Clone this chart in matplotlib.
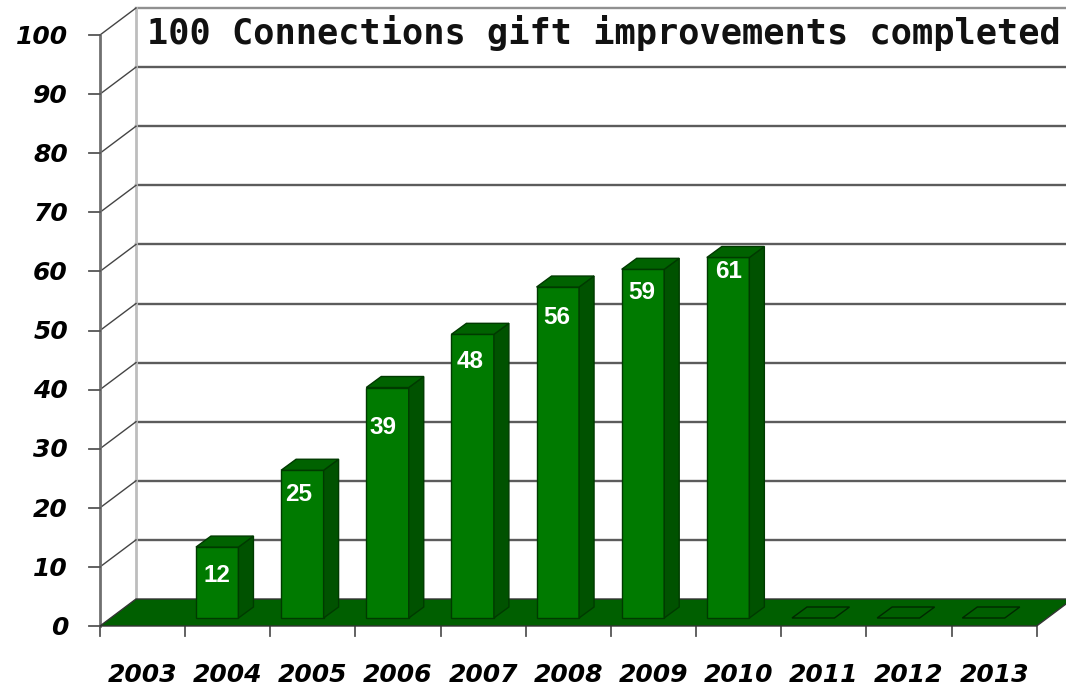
import matplotlib
matplotlib.use("Agg")
import matplotlib.pyplot as plt
from matplotlib.patches import Polygon
from matplotlib.font_manager import FontProperties

years = [2003, 2004, 2005, 2006, 2007, 2008, 2009, 2010, 2011, 2012, 2013]
values = [None, 12, 25, 39, 48, 56, 59, 61, 0, 0, 0]
y_ticks = [0, 10, 20, 30, 40, 50, 60, 70, 80, 90, 100]
title = "100 Connections gift improvements completed"
# how far each value label sits below its bar top, in value units
label_drop = [None, 4.8, 4.1, 6.8, 4.6, 5.2, 3.9, 2.4, None, None, None]
# horizontal nudge of each value label, in pixels
label_nudge = [0, 0, -4, -5, -3, -1, -1, 0, 0, 0, 0]

W, H = 1066, 690
X0, Y0, SX, SY = 100.0, 626.0, 85.15, 5.91

fig = plt.figure(figsize=(W / 100, H / 100), dpi=100, facecolor="white")
ax = fig.add_axes([0, 0, 1, 1])
ax.set_xlim(-X0 / SX, (W - X0) / SX)
ax.set_ylim((Y0 - H) / SY, Y0 / SY)
ax.axis("off")

DX, DY = 36 / SX, 27 / SY          # wall/floor depth
BX, BY = 15 / SX, 11 / SY          # bar depth
PAD, BW = 10.8 / SX, 42.5 / SX     # bar inset and width
BASE = 8 / SY                      # bar base above front floor edge

GRID = "#5c5c5c"
FLOOR = "#005f00"
FRONT = "#007a00"
TOP = "#006200"
SIDE = "#005200"
EDGE = "#003a00"
n = len(years)
top = y_ticks[-1]

# walls
for v in y_ticks[1:]:
    ax.plot([DX, n + DX + 1], [v + DY] * 2, color=GRID if v < top else "#909090", lw=1.7, zorder=1)
    ax.plot([0, DX], [v, v + DY], color="#444444", lw=1.0, zorder=1.2)
ax.plot([DX, DX], [DY, top + DY], color="#bdbdbd", lw=2, zorder=1.1)
ax.plot([0, 0], [0, top], color="#707070", lw=2, zorder=1.3)

# floor
ax.add_patch(Polygon([(0, 0), (n, 0), (n + DX, DY), (DX, DY)], closed=True,
                     facecolor=FLOOR, edgecolor="#333333", lw=1, zorder=2))

# ticks
for v in y_ticks:
    ax.plot([-11 / SX, 0], [v, v], color="#555555", lw=1.3, zorder=1.4)
for i in range(n + 1):
    ax.plot([i, i], [0, -10 / SY], color="#555555", lw=1.3, zorder=1.4)

label_font = FontProperties(fname=matplotlib.font_manager.findfont(
    FontProperties(family="Liberation Sans", weight="bold", stretch="normal")), size=17.5)

# bars
for i, v in enumerate(values):
    if v is None:
        continue
    x0, x1 = i + PAD, i + PAD + BW
    b, t = BASE, BASE + v
    if v > 0:
        ax.add_patch(Polygon([(x0, b), (x1, b), (x1, t), (x0, t)], closed=True,
                             facecolor=FRONT, edgecolor=EDGE, lw=1, zorder=3))
        ax.add_patch(Polygon([(x1, b), (x1 + BX, b + BY), (x1 + BX, t + BY), (x1, t)], closed=True,
                             facecolor=SIDE, edgecolor=EDGE, lw=1, zorder=3))
    ax.add_patch(Polygon([(x0, t), (x1, t), (x1 + BX, t + BY), (x0 + BX, t + BY)], closed=True,
                         facecolor=TOP if v > 0 else "none", edgecolor=EDGE if v > 0 else "#002800",
                         lw=1, zorder=3))
    if v > 0:
        ax.text((x0 + x1) / 2 + label_nudge[i] / SX, t - label_drop[i], str(v), color="white",
                ha="center", va="center", fontproperties=label_font, zorder=4)

# tick labels
tick_font = dict(family="DejaVu Sans", weight="bold", style="oblique", fontsize=18, color="black")
for v in y_ticks:
    ax.text(-32 / SX, v - 0.3, str(v), ha="right", va="center", **tick_font)
for i, y in enumerate(years):
    ax.text(i + 0.5, -49.5 / SY, str(y), ha="center", va="center", **tick_font)

# title
ax.text(47 / SX, 100.3, title, ha="left", va="center", family="DejaVu Sans Mono",
        weight="bold", fontsize=25.4, color="#111111", zorder=5)

fig.savefig("out.png", dpi=100, facecolor="white")
